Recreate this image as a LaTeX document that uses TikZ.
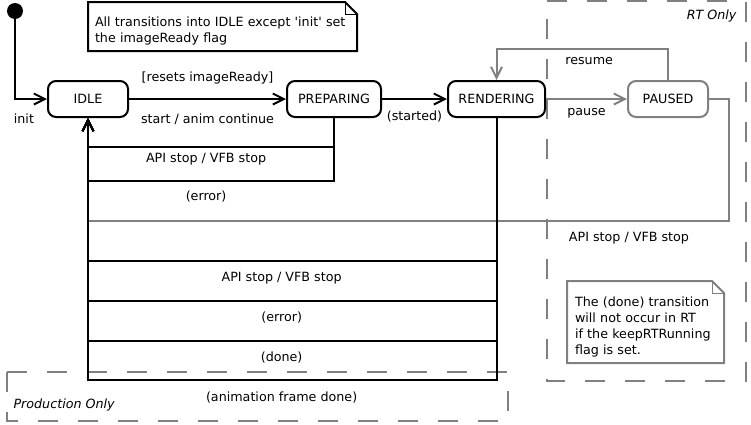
\documentclass[tikz,border=0pt]{standalone}
\usepackage{fontspec}
\setmainfont{DejaVu Sans}
\usetikzlibrary{arrows.meta, positioning}
\definecolor{Ink} {HTML}{000000}
\definecolor{Grey}{HTML}{808080}

\begin{document}
\begin{tikzpicture}[
  x=1pt, y=-1pt,
  every node/.style={font=\fontsize{12.7}{16}\selectfont, text=Ink},
  state/.style={draw=Ink, rounded corners=8pt, line width=2pt, fill=white,
                minimum width=80pt, minimum height=36pt, inner sep=2pt},
  gstate/.style={state, draw=Grey},
  note/.style={anchor=north west, align=left, inner xsep=7pt, inner ysep=0pt,
               outer sep=0pt, text height=19pt},
  fold/.style={line width=2pt, line join=miter},
  arr/.style={-{Straight Barb[length=11pt, width=11pt]}, line width=2pt, draw=Ink},
  garr/.style={arr, draw=Grey},
  lbl/.style={inner sep=2pt},
  region/.style={draw=Grey, line width=2.4pt, dash pattern=on 20pt off 20pt},
]
  \useasboundingbox (0,0) rectangle (751,424);

  % the two regions
  \draw[region] (7,372) -- (508,372) -- (508,421) -- (7,421) -- cycle;
  \draw[region] (547,1) -- (746,1) -- (746,381) -- (547,381) -- cycle;
  \node[anchor=west, font=\fontsize{12.7}{16}\selectfont\itshape] (prodlbl) at (10,405) {Production Only};
  \node[anchor=east, font=\fontsize{12.7}{16}\selectfont\itshape] (rtlbl) at (740,16) {RT Only};

  % notes
  \node[note, minimum width=269pt, minimum height=49pt, text width=255pt] (note1) at (88,2)
    {All transitions into IDLE except \textquotesingle init\textquotesingle{} set\\
     the imageReady flag};
  \draw[fold] (note1.north west) -- ([xshift=-12pt]note1.north east)
    -- ([yshift=-12pt]note1.north east) -- (note1.south east)
    -- (note1.south west) -- cycle;
  \draw[thin] ([xshift=-12pt]note1.north east) |- ([yshift=-12pt]note1.north east);

  \node[note, inner xsep=8pt, minimum width=157pt, minimum height=82pt, text width=141pt] (note2) at (567,281)
    {The (done) transition\\
     will not occur in RT\\
     if the keepRTRunning\\
     flag is set.};
  \draw[fold, draw=Grey] (note2.north west) -- ([xshift=-12pt]note2.north east)
    -- ([yshift=-12pt]note2.north east) -- (note2.south east)
    -- (note2.south west) -- cycle;
  \draw[thin, draw=Grey] ([xshift=-12pt]note2.north east) |- ([yshift=-12pt]note2.north east);

  % states
  \node[circle, fill=Ink, minimum size=16pt, inner sep=0pt] (start) at (15,11) {};
  \node[state] (idle) at (88,99) {IDLE};
  \node[state, minimum width=94pt, right=157pt of idle] (prep) {PREPARING};
  \node[state, minimum width=97pt, right=65pt of prep] (rend) {RENDERING};
  \node[gstate, right=81pt of rend] (paused) {PAUSED};

  % RT only transitions
  \draw[garr] (rend) -- node[lbl, below=6pt] {pause} (paused);
  \draw[garr] (paused.north) -- ++(0,-31) -| node[lbl, pos=0.23, below=5pt] {resume} (rend.north);
  \draw[garr] (paused.east) -| ++(20,122)
    -| node[lbl, pos=0.078, below=8pt] {API stop / VFB stop} (idle.south);

  % main transitions
  \draw[arr] (start) |- node[lbl, pos=0.64, below=12pt] {init} (idle.west);
  \draw[arr] (idle) -- node[lbl, above=12pt] {[resets imageReady]}
                       node[lbl, below=12pt] {start / anim continue} (prep);
  \draw[arr] (prep) -- node[lbl, below=9pt] {(started)} (rend);
  \draw[arr] (prep.south) -- ++(0,29)
    -| node[lbl, pos=0.26, below=3pt] {API stop / VFB stop} (idle.south);
  \draw[arr] (prep.south) -- ++(0,63)
    -| node[lbl, pos=0.26, below=7pt] {(error)} (idle.south);
  \draw[arr] (rend.south) -- ++(0,143)
    -| node[lbl, pos=0.263, below=8pt] {API stop / VFB stop} (idle.south);
  \draw[arr] (rend.south) -- ++(0,183)
    -| node[lbl, pos=0.263, below=8pt] {(error)} (idle.south);
  \draw[arr] (rend.south) -- ++(0,223)
    -| node[lbl, pos=0.263, below=8pt] {(done)} (idle.south);
  \draw[arr] (rend.south) -- ++(0,262)
    -| node[lbl, pos=0.263, below=9pt] {(animation frame done)} (idle.south);
\end{tikzpicture}
\end{document}
